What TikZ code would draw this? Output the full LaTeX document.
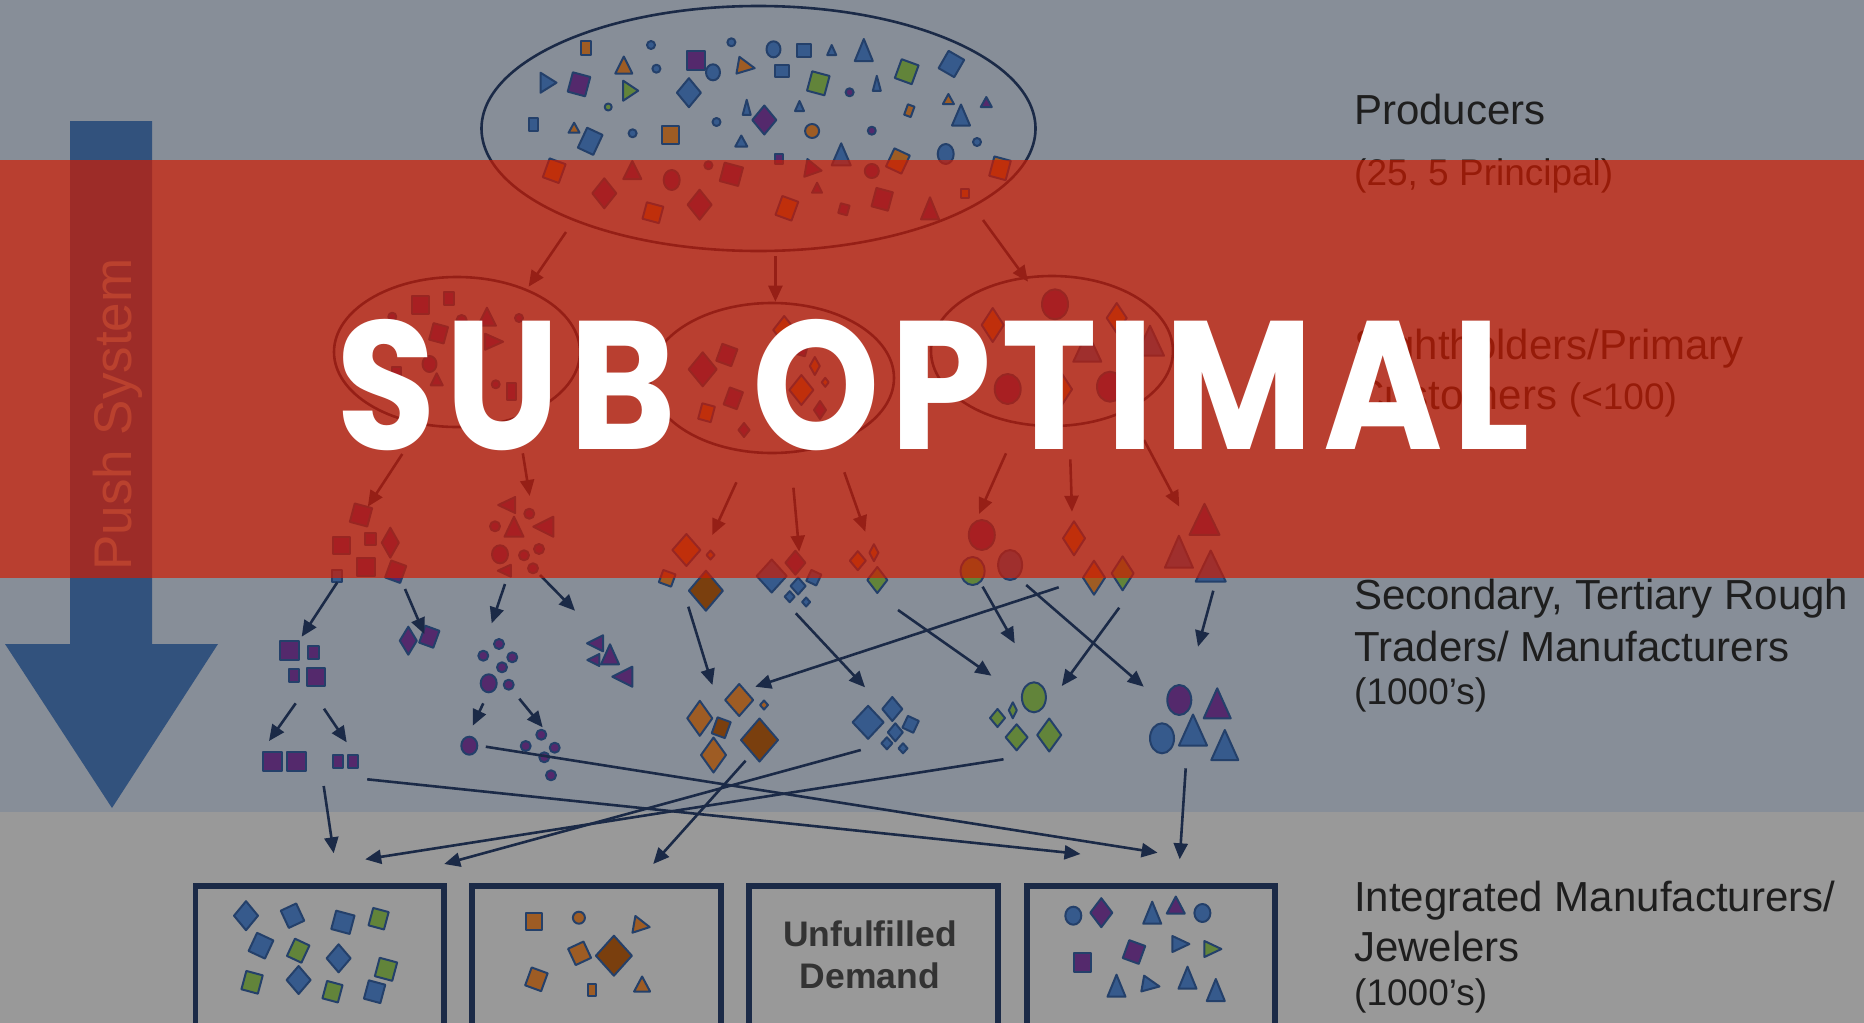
\documentclass[tikz,border=0pt]{standalone}
\usepackage{fontspec}
\setmainfont{Liberation Sans}
\newfontfamily\subfont{Poppins}[LetterSpace=6]
\usetikzlibrary{arrows.meta,shapes.geometric}
\definecolor{bgtop}{HTML}{878E98}
\definecolor{bgbot}{HTML}{999999}
\definecolor{cband}{RGB}{209,27,0}
\definecolor{cnavy}{HTML}{1B2A47}
\definecolor{cshl}{HTML}{24406A}
\definecolor{cblue}{HTML}{365A8C}
\definecolor{cpurple}{HTML}{54296C}
\definecolor{cgreen}{HTML}{62843A}
\definecolor{corange}{HTML}{9E5C24}
\definecolor{cbrown}{HTML}{7A3F0E}
\definecolor{cpush}{HTML}{32527D}
\definecolor{cpushtxt}{RGB}{140,148,145}
\definecolor{ctext}{HTML}{1E1E1E}
\definecolor{cud}{HTML}{333333}
\tikzset{
  shp/.style={draw=cshl,line width=2pt,line join=round},
  arr/.style={draw=cnavy,line width=2.6pt,-{Triangle[length=16pt,width=14pt]}},
  ell/.style={ellipse,draw=cnavy,line width=2.6pt,inner sep=0pt},
  boxst/.style={rectangle,draw=cnavy,line width=5.5pt,inner sep=0pt,outer sep=0pt,anchor=north west},
  lbl/.style={anchor=base west,inner sep=0pt,text=ctext,font=\fontsize{42}{48}\selectfont},
  sublbl/.style={anchor=base west,inner sep=0pt,text=ctext,font=\fontsize{37}{44}\selectfont},
}
\newcommand\shSq[6]{\begin{scope}[shift={(#2,#3)},rotate=#6]\filldraw[shp,fill=#1] (-#4/2,-#5/2) rectangle (#4/2,#5/2);\end{scope}}
\newcommand\shDm[6]{\begin{scope}[shift={(#2,#3)},rotate=#6]\filldraw[shp,fill=#1] (0,-#5/2) -- (#4/2,0) -- (0,#5/2) -- (-#4/2,0) -- cycle;\end{scope}}
\newcommand\shTr[6]{\begin{scope}[shift={(#2,#3)},rotate=#6]\filldraw[shp,fill=#1] (0,-#5/2) -- (#4/2,#5/2) -- (-#4/2,#5/2) -- cycle;\end{scope}}
\newcommand\shCi[5]{\filldraw[shp,fill=#1] (#2,#3) ellipse [x radius=#4, y radius=#5];}
\newcommand\conn[5]{\coordinate (#1-s) at (#2,#3);\coordinate (#1-e) at (#4,#5);\draw[arr] (#1-s) -- (#1-e);}
\begin{document}
\begin{tikzpicture}[x=1pt,y=-1pt]
\useasboundingbox (0,0) rectangle (1864,1023);
\clip (0,0) rectangle (1864,1023);
% backgrounds
\fill[bgtop] (0,0) rectangle (1864,812);
\fill[bgbot] (0,812) rectangle (1864,1023);
% push arrow
\fill[cpush] (70,121) -- (152,121) -- (152,644) -- (218,644) -- (112,808) -- (5,644) -- (70,644) -- cycle;
\node[rotate=90,anchor=base west,inner sep=0pt,text=cpushtxt,font=\fontsize{53}{60}\selectfont] (push) at (131,571) {Push System};
% ===== producers ellipse shapes
\shSq{corange}{585.6}{47.7}{10}{14}{0}
\shCi{cblue}{651}{45}{4}{4}
\shCi{cblue}{731.4}{42.3}{4}{4}
\shCi{cblue}{773.5}{49.3}{7}{8}
\shSq{cblue}{803.7}{50.7}{14}{13}{0}
\shTr{cblue}{831.7}{50}{9}{10}{0}
\shTr{cblue}{863.8}{50}{18}{22}{0}
\shSq{cgreen}{906.7}{71.7}{18}{20}{-20}
\shSq{cblue}{951.4}{64}{18}{20}{-30}
\shTr{corange}{623.8}{65}{17}{17}{0}
\shCi{cblue}{656.4}{68.7}{4}{4}
\shSq{cpurple}{695.8}{60}{18}{19}{0}
\shCi{cblue}{713}{72.3}{7}{8}
\shTr{corange}{746.3}{66.7}{17}{17}{-100}
\shSq{cblue}{781.9}{70.7}{14}{12}{0}
\shTr{cblue}{548.5}{82.7}{20}{16}{-90}
\shSq{cpurple}{579}{84.3}{18}{20}{-15}
\shTr{cgreen}{630.7}{90.7}{20}{15}{-90}
\shDm{cblue}{688.9}{92.7}{24}{29}{0}
\shSq{cgreen}{818.3}{83.3}{18}{20}{-15}
\shCi{cpurple}{849.6}{92.3}{4}{4}
\shTr{cblue}{876.8}{83.3}{8}{15}{0}
\shCi{cgreen}{608.2}{107}{3.5}{3.5}
\shTr{cblue}{746.7}{107.3}{8}{15}{0}
\shDm{cpurple}{764.3}{120}{24}{29}{0}
\shTr{cblue}{799.5}{106}{9}{10}{0}
\shSq{corange}{909.3}{110.7}{7}{11}{-20}
\shTr{corange}{948.4}{99}{11}{10}{0}
\shTr{cblue}{961}{115}{18}{21}{0}
\shTr{cpurple}{986.3}{102}{11}{10}{0}
\shSq{cblue}{533.5}{124.7}{9}{13}{0}
\shTr{corange}{574.1}{127.7}{11}{10}{0}
\shSq{cblue}{590.2}{141.3}{17}{22}{-25}
\shCi{cblue}{632.6}{133.3}{4}{4}
\shSq{corange}{670.2}{135.3}{17}{18}{0}
\shCi{cblue}{716.5}{122}{4}{4}
\shTr{cblue}{741.3}{141}{12}{11}{0}
\shCi{corange}{812.1}{131}{7}{7}
\shCi{cpurple}{871.8}{130.7}{4}{4}
\shCi{cblue}{977}{142}{4}{4}
\shCi{cblue}{945.7}{154}{8}{10}
\shSq{cpurple}{779.2}{158.7}{8}{10}{0}
\shTr{cblue}{841.2}{154.3}{19}{22}{0}
\shSq{corange}{897.9}{161}{17}{20}{-25}
\shSq{corange}{1000}{168.3}{17}{20}{-15}
\shSq{corange}{554.2}{170.7}{17}{20}{-20}
\shTr{cpurple}{632.3}{170}{18}{18}{0}
\shCi{cpurple}{708.4}{165.3}{4}{4}
\shSq{cpurple}{731.4}{174.3}{19}{19}{-15}
\shCi{cpurple}{671.7}{180}{8}{10}
\shTr{cpurple}{813.7}{169.3}{18}{16}{-100}
\shCi{cpurple}{871.8}{171}{7}{7}
\shDm{cpurple}{604.3}{193.3}{24}{30}{0}
\shDm{cpurple}{699.6}{204.7}{24}{30}{0}
\shSq{corange}{652.9}{212.7}{17}{17}{-15}
\shTr{cpurple}{817.1}{187.7}{10}{10}{0}
\shSq{corange}{786.9}{208.3}{17}{20}{-20}
\shSq{cpurple}{843.9}{209.3}{9}{10}{-15}
\shSq{cpurple}{882.2}{199.3}{17}{19}{-15}
\shSq{corange}{965.2}{193.3}{8}{9}{0}
\shTr{cpurple}{930}{208.3}{18}{22}{0}
% ===== sightholder ellipse 1 shapes
\shSq{cpurple}{420.3}{304.7}{17}{18}{0}
\shSq{cpurple}{448.6}{298.7}{10}{13}{0}
\shCi{cpurple}{392.3}{316.7}{4}{4}
\shTr{cpurple}{486.9}{316.7}{18}{18}{0}
\shCi{cpurple}{519}{318}{4}{4}
\shCi{cpurple}{461.6}{320}{5}{5}
\shTr{cpurple}{494.1}{341.7}{16}{18}{-90}
\shSq{cpurple}{438.6}{333.3}{15}{17}{-15}
\shCi{cpurple}{429.5}{364}{7}{8}
\shTr{cpurple}{436.7}{379.3}{12}{12}{0}
\shSq{cpurple}{396.5}{371.7}{9}{9}{0}
\shCi{cpurple}{495.7}{384.3}{4}{4}
\shSq{cpurple}{511.4}{391.7}{9}{17}{0}
% ===== ellipse 2 shapes
\shDm{cpurple}{702.7}{369.3}{28}{34}{0}
\shSq{cpurple}{726.8}{355}{16}{18}{-20}
\shDm{corange}{784.2}{330}{22}{28}{0}
\shSq{cpurple}{800.3}{348.3}{13}{13}{-15}
\shDm{cpurple}{779.2}{361.7}{8}{10}{0}
\shDm{corange}{814.8}{366}{10}{18}{0}
\shDm{corange}{801.4}{390}{24}{30}{0}
\shDm{corange}{825.2}{382.3}{7}{9}{0}
\shSq{cpurple}{733.3}{398.3}{14}{18}{-20}
\shSq{corange}{706.5}{412.7}{13}{16}{-15}
\shDm{cpurple}{744}{430}{11}{14}{0}
\shSq{cpurple}{775}{388}{12}{16}{0}
\shDm{cpurple}{820}{410}{12}{18}{0}
% ===== ellipse 3 shapes
\shCi{cpurple}{1055}{304.3}{13}{15}
\shDm{corange}{992.7}{325}{22}{34}{0}
\shDm{corange}{1116.7}{318}{20}{30}{0}
\shTr{cblue}{1087.3}{346.7}{28}{30}{0}
\shTr{cblue}{1150}{340.7}{28}{30}{0}
\shCi{cpurple}{1007.7}{389}{13}{15}
\shDm{corange}{1061}{389.3}{22}{34}{0}
\shCi{cpurple}{1110}{386.7}{13}{15}
% ===== tier 3 clusters
\shSq{cpurple}{361}{515}{18}{19}{-15}
\shSq{cpurple}{341.7}{545}{17}{17}{0}
\shSq{cpurple}{370}{539.3}{11}{12}{0}
\shDm{cpurple}{390.3}{542.7}{17}{30}{0}
\shSq{cpurple}{366}{567.3}{18}{18}{0}
\shSq{cpurple}{395.7}{571.7}{16}{18}{-20}
\shSq{cblue}{337.3}{575.7}{10}{12}{0}
\shTr{cpurple}{506.7}{505}{16}{17}{90}
\shCi{cpurple}{529.3}{513.7}{5}{5}
\shCi{cpurple}{495}{526.3}{5}{5}
\shTr{cpurple}{514}{526.7}{19}{20}{0}
\shTr{cpurple}{543.3}{526.7}{20}{20}{90}
\shCi{cpurple}{500}{554.3}{8}{9}
\shCi{cpurple}{524}{555.3}{5}{5}
\shCi{cpurple}{539}{549}{5}{5}
\shCi{cpurple}{533}{568.3}{5}{5}
\shTr{cpurple}{504.3}{570.7}{12}{13}{90}
\shDm{corange}{686.4}{550}{28}{32}{0}
\shDm{corange}{710.5}{555}{8}{9}{0}
\shSq{corange}{667.2}{578.3}{13}{13}{-20}
\shDm{cbrown}{705.9}{590.7}{34}{40}{0}
\shDm{cblue}{771.7}{576}{30}{33}{0}
\shDm{cpurple}{795.4}{562.7}{20}{24}{0}
\shSq{cblue}{813.8}{577.7}{11}{12}{-25}
\shDm{cblue}{798.1}{586}{15}{17}{0}
\shDm{cblue}{789.7}{596.7}{10}{11}{0}
\shDm{cblue}{806.1}{602}{8}{9}{0}
\shDm{corange}{857.8}{560.7}{16}{19}{0}
\shDm{corange}{873.9}{552.7}{9}{17}{0}
\shDm{cgreen}{877.3}{580}{20}{26}{0}
\shCi{cpurple}{981.8}{535}{13}{15}
\shCi{cgreen}{972.6}{571}{12}{14}
\shCi{cblue}{1010.1}{565}{12}{15}
\shDm{corange}{1074}{538.3}{22}{34}{0}
\shDm{corange}{1094}{577.7}{22}{34}{0}
\shDm{cgreen}{1122.6}{573.3}{22}{34}{0}
\shTr{cpurple}{1204.5}{519.3}{30}{31}{0}
\shTr{cblue}{1178.9}{551.7}{28}{32}{0}
\shTr{cblue}{1210.7}{566}{30}{31}{0}
% ===== tier 4 clusters
\shSq{cpurple}{289}{650}{19}{19}{0}
\shSq{cpurple}{313}{652.7}{11}{13}{0}
\shSq{cpurple}{293.7}{675.3}{10}{13}{0}
\shSq{cpurple}{316.3}{677}{18}{18}{0}
\shDm{cpurple}{408.3}{640.7}{17}{28}{0}
\shSq{cpurple}{429.3}{636.7}{15}{18}{-20}
\shCi{cpurple}{499}{644}{5}{5}
\shCi{cpurple}{483.3}{655.7}{5}{5}
\shCi{cpurple}{512.3}{657.3}{5}{5}
\shCi{cpurple}{502}{667.3}{5}{5}
\shCi{cpurple}{488.7}{683.3}{8}{9}
\shCi{cpurple}{508.7}{684.7}{5}{5}
\shTr{cpurple}{595}{643.3}{16}{16}{90}
\shTr{cpurple}{610}{654.3}{18}{20}{0}
\shTr{cpurple}{593.3}{660}{12}{12}{90}
\shTr{cpurple}{622.3}{676.7}{20}{20}{90}
\shDm{corange}{699.8}{718.3}{25}{35}{0}
\shDm{corange}{739.2}{700}{28}{32}{0}
\shDm{corange}{764}{705}{8}{9}{0}
\shSq{cbrown}{721.2}{727.7}{14}{17}{-20}
\shDm{cbrown}{759.5}{740}{37}{43}{0}
\shDm{corange}{713.5}{755}{25}{35}{0}
\shDm{cblue}{868.1}{722.3}{31}{33}{0}
\shDm{cblue}{892.3}{709}{20}{24}{0}
\shSq{cblue}{910.6}{724.3}{12}{13}{-25}
\shDm{cblue}{895.3}{732.3}{15}{18}{0}
\shDm{cblue}{886.9}{743.3}{11}{12}{0}
\shDm{cblue}{903}{748.3}{9}{10}{0}
\shCi{cgreen}{1033.9}{697.3}{12}{15}
\shDm{cgreen}{997.5}{718}{15}{18}{0}
\shDm{cgreen}{1012.8}{710.3}{8}{16}{0}
\shDm{cgreen}{1016.6}{737.3}{22}{26}{0}
\shDm{cgreen}{1049.2}{735}{24}{33}{0}
\shCi{cpurple}{1179.3}{700}{12}{15}
\shTr{cpurple}{1217.2}{703.3}{27}{30}{0}
\shCi{cblue}{1162}{738.3}{12}{15}
\shTr{cblue}{1193}{730}{28}{31}{0}
\shTr{cblue}{1224.8}{745}{27}{30}{0}
% ===== tier 5 small clusters
\shSq{cpurple}{272.7}{761.7}{19}{19}{0}
\shSq{cpurple}{296.7}{761.7}{19}{19}{0}
\shSq{cpurple}{337.7}{761.7}{10}{13}{0}
\shSq{cpurple}{353.3}{761.7}{10}{13}{0}
\shCi{cpurple}{469.3}{745.7}{8}{9}
\shCi{cpurple}{541.3}{734.7}{5}{5}
\shCi{cpurple}{525.7}{746}{5}{5}
\shCi{cpurple}{554.7}{747.7}{5}{5}
\shCi{cpurple}{544.3}{757.3}{5}{5}
\shCi{cpurple}{551}{775.3}{5}{5}
% ===== ellipses
\node[ell,minimum width=554pt,minimum height=245pt] (prod) at (758.5,128.5) {};
\node[ell,minimum width=246pt,minimum height=150pt] (sh1) at (457,352) {};
\node[ell,minimum width=244pt,minimum height=150pt] (sh2) at (772,378) {};
\node[ell,minimum width=242pt,minimum height=150pt] (sh3) at (1052,351) {};
% ===== connectors
\conn{t1}{566}{232}{528.6}{286.7}
\conn{t2}{775.4}{256}{775.4}{301.7}
\conn{t3}{983}{220}{1028}{281.7}
\conn{m1}{402.3}{454}{367.8}{506.7}
\conn{m2}{522.8}{453.3}{529.7}{496}
\conn{m3}{736.4}{482.3}{712.3}{535}
\conn{m4}{793.4}{487.7}{799.2}{551.7}
\conn{m5}{844.3}{472.3}{865.3}{531.7}
\conn{m6}{1006}{453.3}{979}{514}
\conn{m7}{1070.3}{459.3}{1072}{511.7}
\conn{m8}{1144}{440}{1179.3}{506.7}
\conn{l1}{337.3}{582.3}{301.7}{636.7}
\conn{l2}{405}{589}{424.3}{634}
\conn{l3}{505}{584}{491.7}{623.3}
\conn{l4}{540}{575}{575}{610.7}
\conn{l5}{295.7}{703.3}{269}{741}
\conn{l6}{324}{708.7}{346.7}{742.3}
\conn{l7}{483.3}{703.3}{472.7}{725.7}
\conn{l8}{519.3}{698.7}{542.7}{727.3}
\conn{l9}{688.3}{606.7}{712.4}{685}
\conn{l10}{795.8}{613.3}{865}{687.3}
\conn{l11}{898}{610}{991.4}{675.7}
\conn{l12}{1058.7}{587.3}{755.2}{686.7}
\conn{l13}{982.6}{586.7}{1014.7}{643.3}
\conn{l14}{1026.2}{585}{1143.7}{686.7}
\conn{l15}{1119.2}{607.7}{1061.8}{686}
\conn{l16}{1213.3}{590.7}{1198}{646.7}
\conn{b1}{323.7}{786}{333.7}{853.3}
\conn{b2}{367.2}{779.3}{1080.5}{854}
\conn{b3}{485.8}{746.7}{1157.6}{852.7}
\conn{b4}{860.8}{750}{444.2}{864}
\conn{b5}{745.6}{760.7}{653.2}{864}
\conn{b6}{1003.5}{759.3}{365.2}{859.3}
\conn{b7}{1185.7}{768.3}{1179.7}{859.3}
% ===== boxes
\node[boxst,minimum width=248.5pt,minimum height=170pt] (box1) at (195.5,886) {};
\node[boxst,minimum width=249pt,minimum height=170pt] (box2) at (472,886) {};
\node[boxst,minimum width=249pt,minimum height=170pt] (box3) at (749,886) {};
\node[boxst,minimum width=248pt,minimum height=170pt] (box4) at (1027,886) {};
\node[anchor=base,inner sep=0pt,text=cud,font=\bfseries\fontsize{35.5}{41}\selectfont] (ud1) at (870,946.7) {Unfulfilled};
\node[anchor=base,inner sep=0pt,text=cud,font=\bfseries\fontsize{35.5}{41}\selectfont] (ud2) at (870,988) {Demand};
% box 1 shapes
\shDm{cblue}{246}{915.7}{24}{29}{0}
\shSq{cblue}{292.5}{915.7}{17}{19}{25}
\shSq{cblue}{342.9}{922.3}{19}{19}{-15}
\shSq{cgreen}{378.6}{918.7}{16}{18}{-15}
\shSq{cblue}{261}{945.7}{18}{20}{-25}
\shSq{cgreen}{298.2}{950.7}{16}{19}{-25}
\shDm{cblue}{338.6}{958.3}{24}{28}{0}
\shSq{cgreen}{386}{969.3}{18}{19}{-15}
\shSq{cgreen}{252.1}{982.3}{17}{19}{-15}
\shDm{cblue}{298.6}{980}{24}{28}{0}
\shSq{cgreen}{332.5}{991.7}{16}{18}{-15}
\shSq{cblue}{374.6}{991.7}{17}{19}{-15}
% box 2 shapes
\shSq{corange}{533.6}{921}{16}{17}{0}
\shCi{corange}{578.9}{917.7}{6}{6}
\shTr{corange}{641.8}{925.7}{17}{16}{-100}
\shSq{corange}{579.6}{953.3}{17}{18}{25}
\shDm{cbrown}{613.9}{955.7}{36}{40}{0}
\shSq{corange}{536.4}{979.3}{17}{19}{-20}
\shSq{corange}{592.1}{989.7}{8}{12}{0}
\shTr{corange}{642.1}{984}{16}{15}{0}
% box 4 shapes
\shCi{cblue}{1073.3}{915.7}{8}{9}
\shDm{cpurple}{1101.3}{912.7}{22}{29}{0}
\shTr{cblue}{1152.2}{912.7}{18}{22}{0}
\shTr{cpurple}{1175.8}{905}{18}{17}{0}
\shCi{cblue}{1202.4}{913}{8}{9}
\shSq{cpurple}{1082.7}{962.7}{17}{19}{0}
\shSq{cpurple}{1134}{952}{17}{19}{-20}
\shTr{cblue}{1180.9}{944}{16}{17}{-90}
\shTr{cgreen}{1212.9}{949}{16}{17}{-90}
\shTr{cblue}{1116.5}{985.7}{18}{22}{0}
\shTr{cblue}{1151.1}{985}{16}{17}{-100}
\shTr{cblue}{1187.5}{977.7}{18}{22}{0}
\shTr{cblue}{1215.8}{990}{18}{22}{0}
% ===== right labels
\node[lbl] (prodL) at (1354,124) {Producers};
\node[sublbl] (prodC) at (1354,185) {(25, 5 Principal)};
\node[lbl] (sightL1) at (1354,359) {Sightholders/Primary};
\node[lbl] (sightL2) at (1354,409) {Customers {\fontsize{37}{44}\selectfont(<100)}};
\node[lbl] (secL1) at (1354,609) {Secondary, Tertiary Rough};
\node[lbl] (secL2) at (1354,661) {Traders/ Manufacturers};
\node[sublbl] (secC) at (1354,704) {(1000’s)};
\node[lbl] (intL1) at (1354,911) {Integrated Manufacturers/};
\node[lbl] (intL2) at (1354,961) {Jewelers};
\node[sublbl] (intC) at (1354,1005) {(1000’s)};
% ===== red overlay band
\fill[cband,fill opacity=0.68] (0,160) rectangle (1864,578);
% ===== stamp
\node[anchor=base west,inner sep=0pt,text=white] (stamp) at (336,449) {\resizebox{1192pt}{130pt}{\subfont\bfseries SUB\kern0.2em\ OPTIMAL}};
\end{tikzpicture}
\end{document}
